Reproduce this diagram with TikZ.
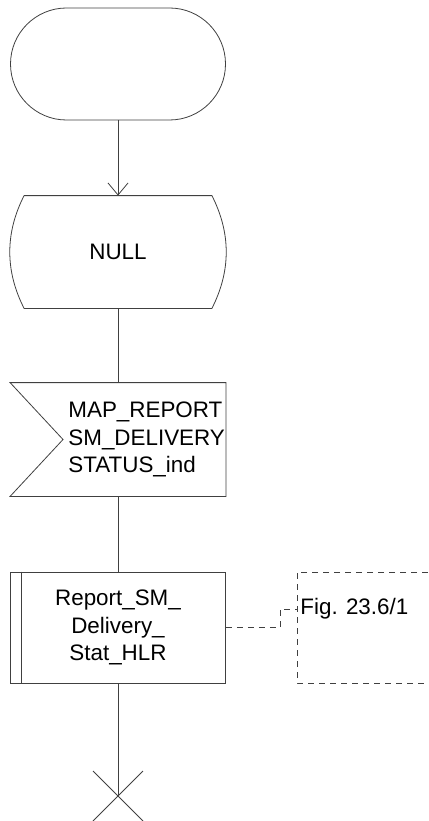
\documentclass[tikz,border=0pt]{standalone}
\usepackage{fontspec}
\setmainfont{Liberation Sans}
\usetikzlibrary{arrows.meta}

\begin{document}
\begin{tikzpicture}[x=1pt,y=-1pt,line width=.8pt,
  every node/.style={font=\fontsize{22.4}{27.5}\selectfont},
  sdlbox/.style={minimum width=215pt,minimum height=112pt,inner sep=0pt},
  flow/.style={draw=black!75},
  note/.style={draw=black!75,dash pattern=on 6pt off 5pt}]
\useasboundingbox (0,0) rectangle (428,821);
% start symbol
\node[sdlbox,draw=black!75,rounded corners=56pt] (start) at (118,64) {};
% state NULL
\node[sdlbox] (null) at (118,252) {NULL};
\draw[flow] ([xshift=14pt]null.north west) -- ([xshift=-14pt]null.north east)
  .. controls (231,233) and (231,271) .. ([xshift=-14pt]null.south east)
  -- ([xshift=14pt]null.south west)
  .. controls (5,271) and (5,233) .. ([xshift=14pt]null.north west);
\draw[flow,-{Straight Barb[length=12pt,width=20pt]}] (start.south) -- (null.north);
% input signal
\node[sdlbox,minimum height=113pt] (sig) at (118,439.5) {};
\node[anchor=west,align=left,inner xsep=0pt] (sigtxt) at (68,439.5) {MAP\_REPORT\\SM\_DELIVERY\\STATUS\_ind};
\draw[flow] (sig.north west) -- (sig.north east) -- (sig.south east) -- (sig.south west)
  -- (63,439.5) -- cycle;
\draw[flow] (null.south) -- (sig.north);
% procedure call
\node[sdlbox,minimum height=111pt,draw=black!75,align=center] (proc) at (118,627.5) {Report\_SM\_\\Delivery\_\\Stat\_HLR};
\draw[flow] ([xshift=11pt]proc.north west) -- ([xshift=11pt]proc.south west);
\draw[flow] (sig.south) -- (proc.north);
% comment
\node[anchor=west,inner sep=0pt] (fig) at (300,609) {Fig. 23.6/1};
\draw[note] (428,572) -- (297,572) -- (297,683) -- (428,683);
\draw[note] (proc.east) -- (280,627.5) -- (280,609) -- (297,609);
% stop
\coordinate (stop) at (118,796);
\draw[flow] (proc.south) -- (stop);
\draw[flow] ([shift={(-25,-25)}]stop) -- ([shift={(25,25)}]stop);
\draw[flow] ([shift={(25,-25)}]stop) -- ([shift={(-25,25)}]stop);
\end{tikzpicture}
\end{document}
